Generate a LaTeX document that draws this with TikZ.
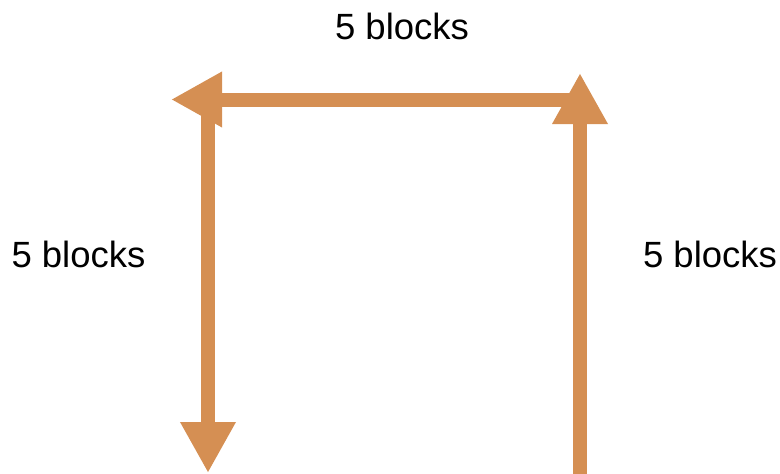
\documentclass[tikz,border=0pt]{standalone}
\usepackage{fontspec}
\setmainfont{Liberation Sans}
\usetikzlibrary{arrows.meta}
\definecolor{arrowc}{RGB}{213,143,83}
\begin{document}
\begin{tikzpicture}[x=1pt,y=-1pt,
  mover/.style={draw=arrowc,line width=14pt,-{Triangle[length=51pt,width=52pt,fill=arrowc]}},
  lbl/.style={anchor=base,inner sep=0pt,font=\fontsize{36.5}{43}\selectfont}]
\useasboundingbox (0,0) rectangle (780,474);
\coordinate (lstart) at (208,99.5);
\coordinate (lend) at (208,473);
\coordinate (tstart) at (572,99.5);
\coordinate (tend) at (171,99.5);
\coordinate (rstart) at (580,474);
\coordinate (rend) at (580,73);
\draw[mover] (lstart) -- (lend);
\draw[mover] (tstart) -- (tend);
\draw[mover] (rstart) -- (rend);
\node[lbl] (top) at (402,39) {5 blocks};
\node[lbl] (left) at (78.5,267) {5 blocks};
\node[lbl] (right) at (710,267) {5 blocks};
\end{tikzpicture}
\end{document}
